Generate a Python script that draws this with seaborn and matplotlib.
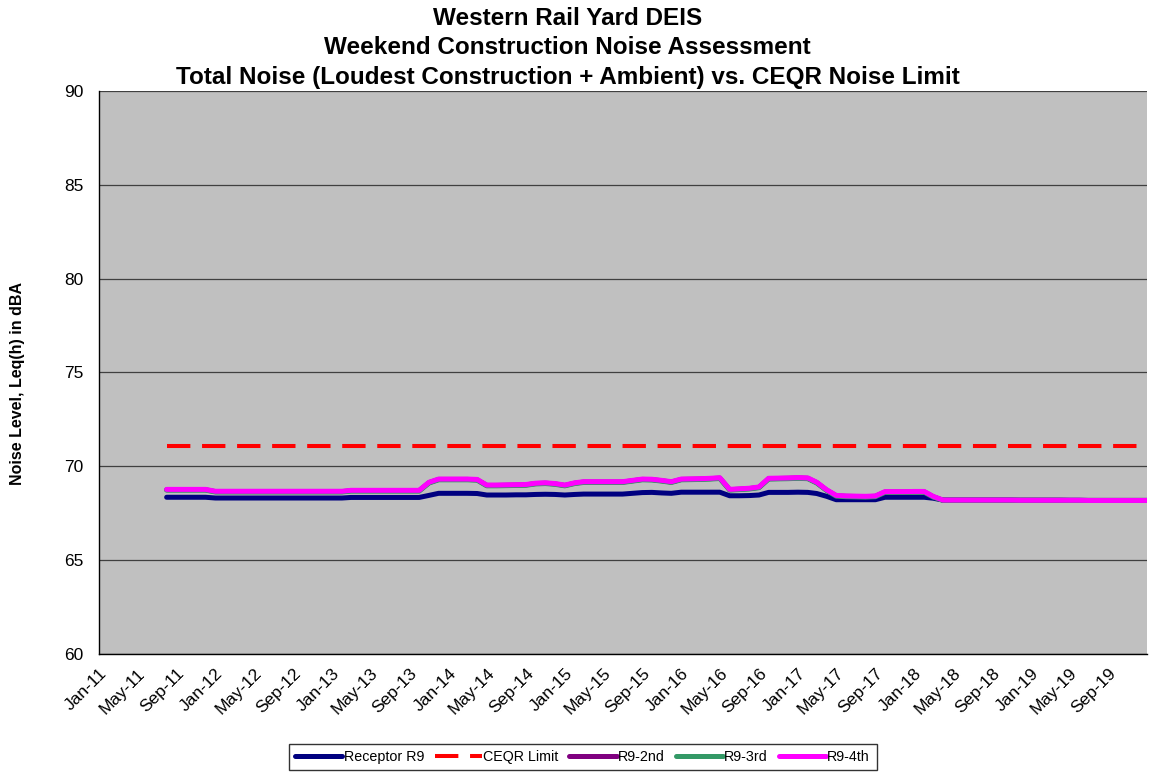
import matplotlib
matplotlib.use("Agg")
import matplotlib.pyplot as plt
import matplotlib.dates as mdates
from matplotlib.ticker import MultipleLocator, FixedLocator
import numpy as np
import pandas as pd
import seaborn as sns

# Monthly assessment periods, Aug-2011 through Jan-2020
months = pd.date_range("2011-08-01", "2020-01-01", freq="MS")

receptor_r9 = (
    [68.35] * 5 + [68.31] * 14 + [68.34] * 8
    + [68.45, 68.56, 68.56, 68.56, 68.56, 68.55]
    + [68.47, 68.47, 68.47, 68.48, 68.48, 68.50, 68.51, 68.50, 68.47, 68.50]
    + [68.52, 68.52, 68.52, 68.52, 68.52, 68.56, 68.60, 68.61, 68.58, 68.56]
    + [68.62, 68.62, 68.62, 68.62, 68.62, 68.43, 68.43, 68.44, 68.47, 68.61]
    + [68.61, 68.61, 68.62, 68.61, 68.55, 68.40, 68.22, 68.22, 68.22, 68.22]
    + [68.22, 68.35, 68.35, 68.35, 68.35, 68.35, 68.30, 68.20, 68.20, 68.20]
    + [68.20] * 5 + [68.19] * 7 + [68.18] * 7
)

ceqr_limit = 71.1

r9_2nd = (
    [68.75] * 5 + [68.65] * 14 + [68.70] * 8
    + [69.13, 69.30, 69.30, 69.30, 69.30, 69.28]
    + [68.98, 68.98, 68.99, 69.00, 69.01, 69.08, 69.10, 69.06, 68.98, 69.10]
    + [69.16, 69.16, 69.16, 69.16, 69.16, 69.23, 69.30, 69.29, 69.23, 69.16]
    + [69.30, 69.31, 69.32, 69.34, 69.37, 68.75, 68.78, 68.81, 68.88, 69.34]
    + [69.35, 69.36, 69.38, 69.36, 69.13, 68.73, 68.43, 68.40, 68.39, 68.38]
    + [68.40, 68.63, 68.63, 68.63, 68.64, 68.64, 68.38, 68.19, 68.19, 68.19]
    + [68.19] * 10 + [68.18] * 9
)

r9_3rd = (
    [68.73] * 5 + [68.63] * 14 + [68.68] * 8
    + [69.11, 69.28, 69.28, 69.28, 69.28, 69.26]
    + [68.96, 68.96, 68.97, 68.98, 68.99, 69.06, 69.08, 69.04, 68.96, 69.08]
    + [69.14, 69.14, 69.14, 69.14, 69.14, 69.21, 69.28, 69.27, 69.21, 69.14]
    + [69.28, 69.29, 69.30, 69.32, 69.35, 68.73, 68.76, 68.79, 68.86, 69.32]
    + [69.33, 69.34, 69.36, 69.34, 69.11, 68.71, 68.41, 68.38, 68.37, 68.36]
    + [68.38, 68.61, 68.61, 68.61, 68.62, 68.62, 68.36, 68.19, 68.19, 68.19]
    + [68.19] * 10 + [68.18] * 9
)

r9_4th = (
    [68.77] * 5 + [68.67] * 14 + [68.72] * 8
    + [69.15, 69.32, 69.32, 69.32, 69.32, 69.30]
    + [69.00, 69.00, 69.01, 69.02, 69.03, 69.10, 69.12, 69.08, 69.00, 69.12]
    + [69.18, 69.18, 69.18, 69.18, 69.18, 69.25, 69.32, 69.31, 69.25, 69.18]
    + [69.32, 69.33, 69.34, 69.36, 69.39, 68.77, 68.80, 68.83, 68.90, 69.36]
    + [69.37, 69.38, 69.40, 69.38, 69.15, 68.75, 68.45, 68.42, 68.41, 68.40]
    + [68.42, 68.65, 68.65, 68.65, 68.66, 68.66, 68.40, 68.20, 68.20, 68.20]
    + [68.20] * 5 + [68.19] * 7 + [68.18] * 7
)

series_names = ["Receptor R9", "CEQR Limit", "R9-2nd", "R9-3rd", "R9-4th"]
series_values = [receptor_r9, [ceqr_limit] * len(months), r9_2nd, r9_3rd, r9_4th]

# Labelled date ticks every four months, unlabelled ones in between
label_months = pd.date_range("2011-01-01", "2019-09-01", freq="4MS")
between_months = pd.date_range("2011-03-01", "2019-11-01", freq="4MS")

df = pd.DataFrame(
    {name: vals for name, vals in zip(series_names, series_values)}, index=months
)
df.index.name = "Month"
long_df = df.reset_index().melt(id_vars="Month", var_name="Series", value_name="Leq")

sns.set_theme(style="white")
plt.rcParams["font.family"] = ["Liberation Sans", "DejaVu Sans"]
plt.rcParams["text.color"] = "black"
plt.rcParams["axes.labelcolor"] = "black"
plt.rcParams["xtick.color"] = "black"
plt.rcParams["ytick.color"] = "black"

fig = plt.figure(figsize=(11.49, 7.73), dpi=100)
ax = fig.add_axes([0.0862, 0.154, 0.9121, 0.7283])
ax.set_facecolor("#C0C0C0")

styles = {
    "Receptor R9": dict(color="#000080", lw=3.6, ls="-"),
    "CEQR Limit": dict(color="#FF0000", lw=2.9, ls=(0, (5.8, 2.9))),
    "R9-2nd": dict(color="#800080", lw=3.6, ls="-"),
    "R9-3rd": dict(color="#339966", lw=3.6, ls="-"),
    "R9-4th": dict(color="#FF00FF", lw=3.6, ls="-"),
}

for name in series_names:
    st = styles[name]
    sub = long_df[long_df["Series"] == name]
    sns.lineplot(
        data=sub, x="Month", y="Leq", ax=ax, color=st["color"],
        linewidth=st["lw"], linestyle=st["ls"], label=name,
        solid_capstyle="round", dash_capstyle="butt",
    )

# Axes ranges and ticks
ax.set_xlim(pd.Timestamp("2011-01-01"), pd.Timestamp("2020-01-01"))
ax.set_ylim(60, 90)
ax.yaxis.set_major_locator(MultipleLocator(5))
ax.yaxis.set_minor_locator(MultipleLocator(1))
ax.xaxis.set_major_locator(FixedLocator(mdates.date2num(label_months)))
ax.xaxis.set_minor_locator(FixedLocator(mdates.date2num(between_months)))
ax.xaxis.set_major_formatter(mdates.DateFormatter("%b-%y"))

ax.grid(axis="y", which="major", color="#404040", linewidth=0.9)
ax.set_axisbelow(True)

for side in ["top", "right"]:
    ax.spines[side].set_visible(False)
for side in ["left", "bottom"]:
    ax.spines[side].set_color("black")
    ax.spines[side].set_linewidth(1.0)

ax.tick_params(axis="both", which="major", direction="out", length=5, width=1,
               color="black", labelsize=12.5, labelcolor="black")
ax.tick_params(axis="x", which="minor", direction="inout", length=8, width=1,
               color="black")
ax.tick_params(axis="y", which="minor", direction="out", length=5, width=1,
               color="black")
ax.tick_params(axis="y", which="major", pad=6)

for lab in ax.get_xticklabels():
    lab.set_rotation(45)
    lab.set_ha("right")
    lab.set_rotation_mode("anchor")

ax.set_xlabel("")
ax.set_ylabel("Noise Level, Leq(h) in dBA", fontsize=11.5, fontweight="bold",
              labelpad=0)
ax.yaxis.set_label_coords(-0.071, 0.48)

fig.suptitle(
    "Western Rail Yard DEIS\nWeekend Construction Noise Assessment\n"
    "Total Noise (Loudest Construction + Ambient) vs. CEQR Noise Limit",
    fontsize=17.5, fontweight="bold", x=0.494, y=0.991, va="top", linespacing=1.36,
)

handles, labels = ax.get_legend_handles_labels()
ax.get_legend().remove()
leg = fig.legend(
    handles, labels, loc="center", bbox_to_anchor=(0.507, 0.0207), ncol=5,
    frameon=True, fancybox=False, edgecolor="black", fontsize=10.3,
    handlelength=3.3, handletextpad=0.1, columnspacing=0.75, borderpad=0.45,
)
leg.get_frame().set_linewidth(1.0)

fig.savefig("out.png", dpi=100)
